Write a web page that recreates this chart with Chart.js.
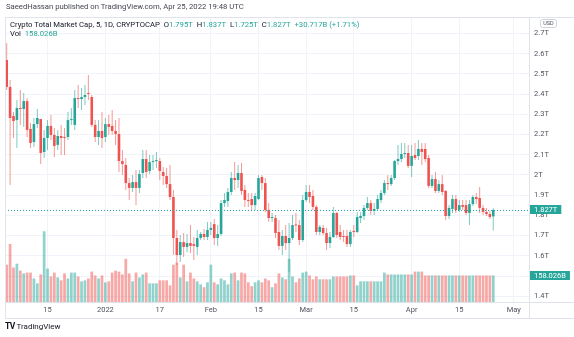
<!DOCTYPE html>
<html><head><meta charset="utf-8">
<script src="https://cdn.jsdelivr.net/npm/chart.js@4.4.0/dist/chart.umd.min.js"></script>
<style>
html,body{margin:0;padding:0;background:#fff;}
#wrap{position:relative;width:574px;height:337px;overflow:hidden;font-family:Roboto,"Liberation Sans",sans-serif;color:#131722;}
canvas{position:absolute;left:0;top:0;}
.t{position:absolute;white-space:nowrap;font-size:7.7px;line-height:9px;}
.g{color:#26a69a;}
</style></head><body>
<div id="wrap">
<canvas id="c" width="574" height="337"></canvas>
<div class="t" style="left:6px;top:2px;color:#434651">SaeedHassan published on TradingView.com, Apr 25, 2022 19:48 UTC</div>
<div class="t" style="left:10px;top:20px">Crypto Total Market Cap, 5, 1D, CRYPTOCAP&nbsp; O<span class="g">1.795T</span>&nbsp; H<span class="g">1.837T</span>&nbsp; L<span class="g">1.725T</span>&nbsp; C<span class="g">1.827T</span>&nbsp; <span class="g">+30.717B (+1.71%)</span></div>
<div class="t" style="left:10px;top:29px">Vol&nbsp; <span class="g">158.026B</span></div>
<div class="t" style="left:5px;top:322px;font-size:8px"><b style="letter-spacing:-0.6px;font-size:8.5px">TV</b> TradingView</div>
</div>
<script>
// OHLC in trillions USD, daily from 2021-12-03 to 2022-04-25
const opens = [2.569,2.436,2.292,2.272,2.332,2.327,2.366,2.228,2.163,2.252,2.277,2.114,2.183,2.243,2.198,2.149,2.193,2.188,2.188,2.272,2.248,2.381,2.376,2.386,2.406,
2.386,2.248,2.188,2.218,2.188,2.252,2.243,2.218,2.203,2.069,2.050,1.960,1.936,1.965,1.936,2.010,2.079,2.020,2.064,2.069,2.069,2.015,1.995,1.955,1.891,
1.688,1.604,1.668,1.644,1.663,1.658,1.644,1.688,1.708,1.693,1.728,1.757,1.688,1.708,1.861,1.871,1.916,1.985,1.975,2.010,1.926,1.876,1.881,1.851,1.881,
1.990,1.960,1.827,1.787,1.787,1.718,1.649,1.698,1.663,1.688,1.752,1.752,1.678,1.876,1.916,1.896,1.842,1.718,1.738,1.713,1.663,1.693,1.812,1.718,1.698,
1.698,1.658,1.723,1.718,1.787,1.797,1.837,1.861,1.822,1.832,1.876,1.911,1.960,1.955,1.985,2.069,2.079,2.104,2.109,2.045,2.099,2.094,2.129,2.129,2.084,
1.946,1.980,1.921,1.955,1.921,1.797,1.832,1.881,1.827,1.851,1.851,1.812,1.856,1.891,1.886,1.837,1.817,1.807,1.795];
const highs = [2.653,2.470,2.312,2.371,2.421,2.406,2.381,2.257,2.282,2.327,2.277,2.223,2.272,2.297,2.233,2.223,2.248,2.233,2.312,2.332,2.421,2.446,2.431,2.446,2.495,
2.396,2.272,2.272,2.312,2.282,2.297,2.322,2.272,2.282,2.124,2.084,1.985,2.000,2.025,2.025,2.124,2.124,2.100,2.099,2.114,2.084,2.040,2.035,2.050,1.926,
1.728,1.703,1.713,1.708,1.752,1.693,1.728,1.718,1.733,1.767,1.767,1.782,1.752,1.876,1.911,1.936,2.015,2.064,2.050,2.059,1.950,1.911,1.911,1.911,2.000,
2.000,1.985,1.861,1.812,1.802,1.777,1.728,1.752,1.762,1.802,1.812,1.777,1.901,1.950,1.950,1.926,1.851,1.752,1.752,1.738,1.718,1.842,1.817,1.752,1.728,
1.728,1.728,1.752,1.817,1.817,1.851,1.891,1.876,1.861,1.901,1.926,1.975,2.000,2.000,2.074,2.149,2.158,2.158,2.149,2.149,2.158,2.173,2.158,2.158,2.099,
2.000,2.015,1.975,2.000,1.926,1.851,1.901,1.901,1.876,1.876,1.876,1.876,1.901,1.911,1.941,1.851,1.837,1.822,1.837];
const lows = [2.421,1.950,2.183,2.134,2.248,2.238,2.188,2.134,2.139,2.233,2.054,2.084,2.124,2.173,2.089,2.124,2.099,2.099,2.173,2.248,2.223,2.332,2.322,2.347,2.371,
2.238,2.163,2.149,2.134,2.163,2.198,2.198,2.149,2.015,2.000,1.926,1.876,1.916,1.851,1.911,1.985,1.985,2.005,2.025,2.035,1.975,1.950,1.936,1.876,1.604,
1.554,1.569,1.594,1.619,1.614,1.579,1.604,1.678,1.678,1.678,1.703,1.653,1.649,1.698,1.842,1.842,1.901,1.926,1.936,1.901,1.842,1.842,1.827,1.827,1.876,
1.926,1.817,1.767,1.767,1.688,1.629,1.604,1.629,1.520,1.678,1.718,1.653,1.668,1.866,1.861,1.827,1.703,1.703,1.703,1.629,1.639,1.688,1.688,1.678,1.668,
1.644,1.644,1.693,1.713,1.762,1.777,1.827,1.802,1.802,1.827,1.861,1.901,1.926,1.946,1.975,2.050,2.064,2.084,2.035,1.990,2.074,2.074,2.050,2.064,1.936,
1.936,1.911,1.911,1.901,1.777,1.782,1.812,1.812,1.817,1.827,1.802,1.752,1.847,1.856,1.812,1.802,1.797,1.782,1.725];
const closes = [2.436,2.282,2.267,2.332,2.327,2.366,2.223,2.158,2.252,2.282,2.109,2.183,2.243,2.198,2.144,2.193,2.183,2.183,2.272,2.277,2.381,2.376,2.386,2.396,2.401,
2.248,2.188,2.218,2.183,2.252,2.238,2.218,2.203,2.069,2.054,1.960,1.936,1.965,1.936,2.005,2.079,2.015,2.064,2.069,2.074,2.020,1.995,1.955,1.891,1.688,
1.604,1.668,1.644,1.663,1.649,1.649,1.688,1.708,1.693,1.728,1.738,1.688,1.708,1.861,1.876,1.916,1.985,1.975,2.010,1.921,1.876,1.871,1.851,1.896,1.985,
1.960,1.827,1.787,1.792,1.713,1.649,1.698,1.663,1.688,1.752,1.750,1.678,1.876,1.916,1.891,1.842,1.718,1.743,1.713,1.663,1.693,1.812,1.703,1.693,1.693,
1.658,1.718,1.718,1.792,1.797,1.837,1.861,1.822,1.832,1.881,1.911,1.960,1.955,1.985,2.069,2.079,2.104,2.109,2.045,2.094,2.084,2.129,2.114,2.079,1.946,
1.980,1.921,1.955,1.916,1.797,1.837,1.881,1.827,1.851,1.842,1.812,1.856,1.891,1.881,1.837,1.817,1.807,1.792,1.827];
// volume in billions USD
const volumes = [222,345,205,228,187,170,175,175,140,111,164,421,199,152,175,146,129,170,140,175,175,152,123,129,140,
181,158,140,158,117,123,175,187,181,164,257,170,123,175,146,164,175,111,111,111,129,129,129,99,222,
234,146,222,123,175,140,123,105,88,117,222,117,105,140,129,105,170,175,129,175,170,117,94,117,129,
117,140,129,88,111,170,146,135,257,152,117,140,175,181,158,135,152,135,135,135,135,152,152,152,152,
152,158,158,99,123,123,123,123,123,123,123,175,164,164,164,164,164,164,164,164,181,181,181,158,158,
158,158,158,158,158,158,158,158,158,158,158,158,158,158,158,158,158,158,158.026];
const yTicks = [1.4,1.5,1.6,1.7,1.8,1.9,2.0,2.1,2.2,2.3,2.4,2.5,2.6,2.7];
const tickDates = ['2021-12-15','2022-01-01','2022-01-17','2022-02-01','2022-02-15','2022-03-01','2022-03-15','2022-04-01','2022-04-15','2022-05-01'];
const tickTexts = ['15','2022','17','Feb','15','Mar','15','Apr','15','May'];
const firstDay = '2021-12-03', lastDay = '2022-05-05';

// calendar of days (category axis)
const categories = [];
for (let d = new Date(firstDay + 'T00:00:00Z'); d <= new Date(lastDay + 'T00:00:00Z'); d.setUTCDate(d.getUTCDate() + 1)) {
  categories.push(d.toISOString().slice(0, 10));
}

const UP = '#26a69a', DOWN = '#ef5350';
const UPV = 'rgba(38,166,154,0.5)', DOWNV = 'rgba(239,83,80,0.5)';
const isUp = opens.map((o, i) => closes[i] >= o);
const FONT = 'Roboto, "Liberation Sans", sans-serif';

const frame = {
  id: 'frame',
  afterDatasetsDraw(chart) {
    const ctx = chart.ctx, a = chart.chartArea, y = chart.scales.y;
    const py = Math.round(y.getPixelForValue(closes[closes.length - 1])) + 0.5;
    ctx.save();
    ctx.strokeStyle = UP; ctx.lineWidth = 1; ctx.setLineDash([1, 2]);
    ctx.beginPath(); ctx.moveTo(a.left, py); ctx.lineTo(a.right, py); ctx.stroke();
    ctx.restore();
  },
  afterDraw(chart) {
    const ctx = chart.ctx, a = chart.chartArea;
    ctx.save();
    ctx.strokeStyle = '#e0e3eb'; ctx.lineWidth = 1;
    ctx.beginPath();
    ctx.moveTo(a.left, a.top - 0.5); ctx.lineTo(574, a.top - 0.5);
    ctx.moveTo(a.left + 0.5, a.top - 1); ctx.lineTo(a.left + 0.5, 319);
    ctx.moveTo(a.left, 318.5); ctx.lineTo(574, 318.5);
    ctx.moveTo(a.left, a.bottom + 0.5); ctx.lineTo(574, a.bottom + 0.5);
    ctx.moveTo(a.right + 0.5, a.top - 1); ctx.lineTo(a.right + 0.5, 319);
    ctx.stroke();
    // value tags
    const tag = (yy, text) => {
      ctx.font = '7.5px ' + FONT;
      const w = ctx.measureText(text).width + 8;
      ctx.fillStyle = UP;
      ctx.fillRect(a.right + 1, Math.round(yy - 4.5), w, 9);
      ctx.fillStyle = '#fff'; ctx.textBaseline = 'middle'; ctx.textAlign = 'left';
      ctx.fillText(text, a.right + 5, yy + 0.5);
    };
    const lastC = closes[closes.length - 1], lastV = volumes[volumes.length - 1];
    tag(chart.scales.y.getPixelForValue(lastC), lastC.toFixed(3) + 'T');
    tag(chart.scales.v.getPixelForValue(lastV), lastV.toFixed(3) + 'B');
    // currency box
    ctx.strokeStyle = '#d1d4dc';
    ctx.beginPath(); ctx.roundRect(540.5, 19.5, 16, 8, 2); ctx.stroke();
    ctx.fillStyle = '#50535e'; ctx.font = '5.5px ' + FONT; ctx.textAlign = 'center'; ctx.textBaseline = 'middle';
    ctx.fillText('USD', 548.5, 23.8);
    ctx.restore();
  }
};

new Chart(document.getElementById('c'), {
  type: 'bar',
  data: {
    labels: categories,
    datasets: [
      { label: 'Volume', data: volumes, yAxisID: 'v', order: 3, grouped: false,
        backgroundColor: isUp.map(u => u ? UPV : DOWNV), barPercentage: 0.8, categoryPercentage: 1, inflateAmount: 0 },
      { label: 'Wick', data: lows.map((l, i) => [l, highs[i]]), yAxisID: 'y', order: 2, grouped: false,
        backgroundColor: isUp.map(u => u ? 'rgba(38,166,154,0.6)' : 'rgba(239,83,80,0.6)'), barThickness: 1, inflateAmount: 0 },
      { label: 'Body', data: opens.map((o, i) => [o, closes[i]]), yAxisID: 'y', order: 1, grouped: false,
        backgroundColor: isUp.map(u => u ? UP : DOWN), barThickness: 2.6, minBarLength: 1, inflateAmount: 0 }
    ]
  },
  options: {
    responsive: false, animation: false, devicePixelRatio: 1,
    layout: { padding: { left: 5, top: 18, right: 0, bottom: 18 } },
    plugins: { legend: { display: false }, tooltip: { enabled: false } },
    scales: {
      x: {
        offset: true,
        border: { display: false },
        grid: { offset: false, drawTicks: false,
          color: c => (c.tick && tickDates.includes(categories[c.index])) ? '#f0f3fa' : 'rgba(0,0,0,0)' },
        ticks: { autoSkip: false, maxRotation: 0, minRotation: 0, padding: 4, color: '#50535e',
          font: { size: 7.5, family: FONT },
          callback: (v, i) => { const k = tickDates.indexOf(categories[i]); return k >= 0 ? tickTexts[k] : ''; } },
        afterFit: s => { s.height = 17; }
      },
      y: {
        position: 'right', min: 1.3713, max: 2.7772,
        border: { display: false },
        grid: { color: '#f0f3fa', drawTicks: false },
        afterBuildTicks: s => { s.ticks = yTicks.map(v => ({ value: v })); },
        ticks: { padding: 5, color: '#50535e', font: { size: 7.5, family: FONT },
          callback: v => (+v.toFixed(1)) + 'T' },
        afterFit: s => { s.width = 45; }
      },
      v: { display: false, min: 0, max: 1690 }
    }
  },
  plugins: [frame]
});
</script>
</body></html>
